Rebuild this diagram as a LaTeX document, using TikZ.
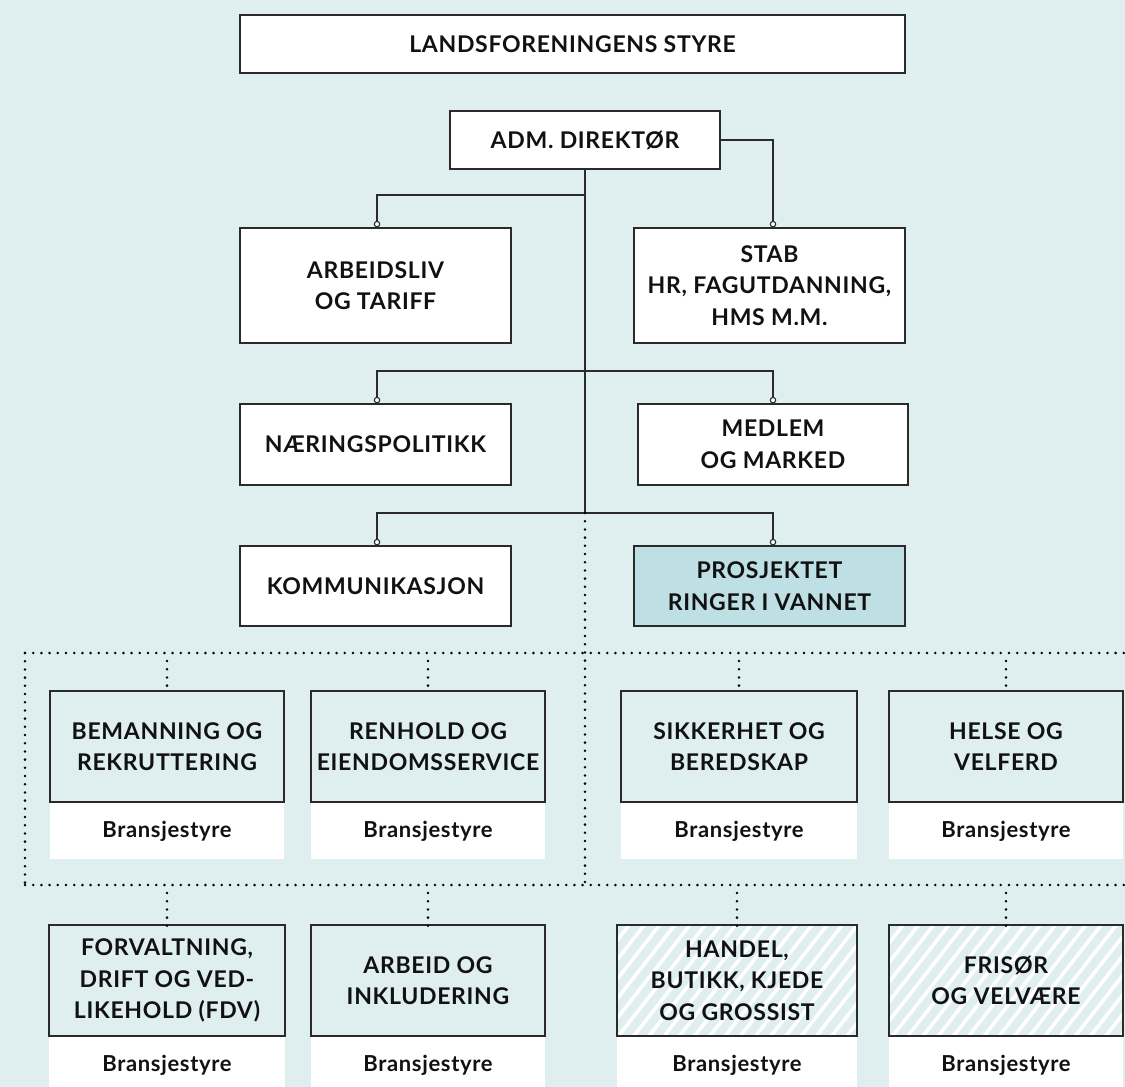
\documentclass[tikz,border=0pt]{standalone}
\usepackage{fontspec}
\setmainfont{Lato}[LetterSpace=3]
\usetikzlibrary{arrows.meta,patterns.meta}
\definecolor{bgc}{HTML}{DFEFEF}
\definecolor{prc}{HTML}{BEE0E4}
\definecolor{lnc}{HTML}{2A2A2A}
\definecolor{txc}{HTML}{111111}
\begin{document}
\begin{tikzpicture}[x=1pt,y=-1pt,
  every node/.style={font=\fontsize{23}{31.5}\selectfont\bfseries, text=txc, align=center, inner sep=0pt},
  whitebox/.style={draw=lnc, line width=1.3pt, fill=white},
  unitbox/.style={draw=lnc, line width=1.3pt, fill=bgc, minimum height=111pt},
  projbox/.style={draw=lnc, line width=1.3pt, fill=prc},
  hatchbox/.style={draw=lnc, line width=1.3pt, minimum height=111pt, preaction={fill=bgc}, preaction={pattern={Lines[angle=52,distance=12pt,line width=3.6pt]}, pattern color=white}},
  boardbox/.style={fill=white, minimum height=56pt, font=\fontsize{22}{26}\selectfont\bfseries},
  conn/.style={draw=lnc, line width=1.3pt},
  tipconn/.style={conn, -{Circle[length=6.5pt, width=6.5pt, fill=white, line width=1.1pt]}},
  dotline/.style={draw=black, line width=2.8pt, line cap=round, dash pattern=on 0pt off 8.2pt}
]
\useasboundingbox (0,0) rectangle (1125,1087);
\fill[bgc] (0,0) rectangle (1125,1087);

% top
\node[whitebox, minimum width=665pt, minimum height=58pt] (styre) at (572.5,44) {LANDSFORENINGENS STYRE};
\node[whitebox, minimum width=270pt, minimum height=58pt] (adm) at (585,140) {ADM. DIREKTØR};

\node[whitebox, minimum width=271pt, minimum height=115pt] (arb) at (375.5,285.5) {ARBEIDSLIV\\OG TARIFF};
\node[whitebox, minimum width=271pt, minimum height=115pt] (stab) at (769.5,285.5) {STAB\\HR, FAGUTDANNING,\\HMS M.M.};
\node[whitebox, minimum width=271pt, minimum height=81pt] (naer) at (375.5,444.5) {NÆRINGSPOLITIKK};
\node[whitebox, minimum width=270pt, minimum height=81pt] (medl) at (773,444.5) {MEDLEM\\OG MARKED};
\node[whitebox, minimum width=271pt, minimum height=80pt] (komm) at (375.5,586) {KOMMUNIKASJON};
\node[projbox, minimum width=271pt, minimum height=80pt] (pros) at (769.5,586) {PROSJEKTET\\RINGER I VANNET};

\coordinate (j1) at (585,195);
\coordinate (j2) at (585,371);
\coordinate (j3) at (585,513);
\coordinate (d1) at (585,653);
\coordinate (d2) at (585,885);
\coordinate (dl1) at (25,653);
\coordinate (dr1) at (1125,653);
\coordinate (dl2) at (25,885);
\coordinate (dr2) at (1125,885);

\draw[conn] (adm.south) -- (j3);
\draw[tipconn] (j1) -| ([xshift=1.5pt]arb.north);
\draw[tipconn] (adm.east) -| ([xshift=3.5pt]stab.north);
\draw[tipconn] (j2) -| ([xshift=1.5pt]naer.north);
\draw[tipconn] (j2) -| (medl.north);
\draw[tipconn] (j3) -| ([xshift=1.5pt]komm.north);
\draw[tipconn] (j3) -| ([xshift=3.5pt]pros.north);

% dotted frame
\draw[dotline] (j3) -- (d2);
\draw[dotline] (dl1) -- (dr1);
\draw[dotline] (dl2) -- (dr2);
\draw[dotline] (dl1) -- (dl2);

% row 1
\node[unitbox, minimum width=234pt] (bem) at (167,746.5) {BEMANNING OG\\REKRUTTERING};
\node[boardbox, minimum width=234pt, anchor=north] (bemb) at (bem.south) {Bransjestyre};
\node[unitbox, minimum width=234pt] (ren) at (428,746.5) {RENHOLD OG\\EIENDOMSSERVICE};
\node[boardbox, minimum width=234pt, anchor=north] (renb) at (ren.south) {Bransjestyre};
\node[unitbox, minimum width=236pt] (sik) at (739,746.5) {SIKKERHET OG\\BEREDSKAP};
\node[boardbox, minimum width=236pt, anchor=north] (sikb) at (sik.south) {Bransjestyre};
\node[unitbox, minimum width=234pt] (hel) at (1006,746.5) {HELSE OG\\VELFERD};
\node[boardbox, minimum width=234pt, anchor=north] (helb) at (hel.south) {Bransjestyre};

% row 2
\node[unitbox, minimum width=236pt] (forv) at (167,980.5) {FORVALTNING,\\DRIFT OG VED-\\LIKEHOLD (FDV)};
\node[boardbox, minimum width=236pt, anchor=north] (forvb) at (forv.south) {Bransjestyre};
\node[unitbox, minimum width=234pt] (arbi) at (428,980.5) {ARBEID OG\\INKLUDERING};
\node[boardbox, minimum width=234pt, anchor=north] (arbib) at (arbi.south) {Bransjestyre};
\node[hatchbox, minimum width=240pt] (hand) at (737,980.5) {HANDEL,\\BUTIKK, KJEDE\\OG GROSSIST};
\node[boardbox, minimum width=240pt, anchor=north] (handb) at (hand.south) {Bransjestyre};
\node[hatchbox, minimum width=234pt] (fris) at (1006,980.5) {FRISØR\\OG VELVÆRE};
\node[boardbox, minimum width=234pt, anchor=north] (frisb) at (fris.south) {Bransjestyre};

% dotted stubs
\foreach \n in {bem,ren,sik,hel}{
  \draw[dotline] (\n.north |- dl1) ++(0,8) -- ([yshift=-3pt]\n.north);
}
\foreach \n in {forv,arbi,hand,fris}{
  \draw[dotline] (\n.north |- dl2) ++(0,8) -- ([yshift=-3pt]\n.north);
}
\end{tikzpicture}
\end{document}
